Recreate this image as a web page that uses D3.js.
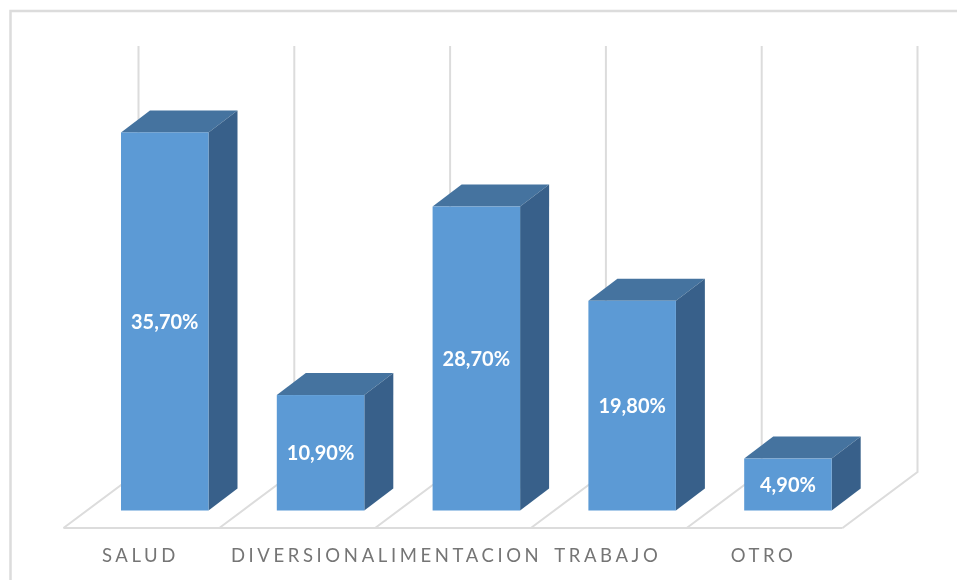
<!DOCTYPE html>
<html>
<head>
<meta charset="utf-8">
<script src="https://cdn.jsdelivr.net/npm/d3@7"></script>
<style>
html, body { margin: 0; padding: 0; background: #fff; }
svg { display: block; }
</style>
</head>
<body>
<svg id="mainChart"></svg>
<script>
var categories = ['SALUD', 'DIVERSION', 'ALIMENTACION', 'TRABAJO', 'OTRO'];
var values = [35.7, 10.9, 28.7, 19.8, 4.9];
var valueLabels = ['35,70%', '10,90%', '28,70%', '19,80%', '4,90%'];

var WIDTH = 957, HEIGHT = 580;
var FLOOR = { LEFT: 63.5, RIGHT: 842.5, FRONT: 528, DX: 75, DY: -56 };
var GRIDTOP = 46;
var BAR = { OFFSET: 57.5, WIDTH: 87.5, BOTTOM: 510.5, DX: 29, DY: -22 };
var COLORS = { front: '#5b9ad5', top: '#44739f', side: '#38618a', grid: '#dcdcdc', text: '#757575' };

var svg = d3.select('#mainChart')
    .attr('width', WIDTH)
    .attr('height', HEIGHT);

// the source is a soft screenshot
svg.append('filter')
    .attr('id', 'soft')
    .attr('x', 0).attr('y', 0).attr('width', 1).attr('height', 1)
    .attr('filterUnits', 'userSpaceOnUse')
    .attr('width', WIDTH).attr('height', HEIGHT)
    .append('feGaussianBlur')
    .attr('stdDeviation', 0.5);

var root = svg.append('g').attr('filter', 'url(#soft)');

var xScale = d3.scaleBand()
    .domain(categories)
    .range([FLOOR.LEFT, FLOOR.RIGHT]);
var yScale = d3.scaleLinear()
    .domain([0, 40])
    .range([BAR.BOTTOM, BAR.BOTTOM - 423.6]);

var poly = function (pts) {
    return pts.map(function (p) { return p.join(','); }).join(' ');
};

// chart frame, only top and left show in the crop
root.append('path')
    .attr('d', 'M10.5,' + HEIGHT + 'V11H' + WIDTH)
    .attr('fill', 'none')
    .attr('stroke', COLORS.grid)
    .attr('stroke-width', 2.5);

// floor and back wall
var floorG = root.append('g')
    .attr('fill', 'none')
    .attr('stroke', COLORS.grid)
    .attr('stroke-width', 2);
var edges = categories.map(function (c) { return xScale(c); }).concat([FLOOR.RIGHT]);

floorG.append('line')
    .attr('x1', FLOOR.LEFT).attr('x2', FLOOR.RIGHT)
    .attr('y1', FLOOR.FRONT).attr('y2', FLOOR.FRONT);
floorG.selectAll('.wall')
    .data(edges)
    .join('polyline')
    .attr('class', 'wall')
    .attr('points', function (x) {
        return poly([[x, FLOOR.FRONT], [x + FLOOR.DX, FLOOR.FRONT + FLOOR.DY], [x + FLOOR.DX, GRIDTOP]]);
    });

// bars
var bars = root.selectAll('.bar')
    .data(categories)
    .join('g')
    .attr('class', 'bar');

bars.append('polygon')
    .attr('fill', COLORS.top)
    .attr('points', function (c, i) {
        var x = xScale(c) + BAR.OFFSET, y = yScale(values[i]);
        return poly([[x, y], [x + BAR.DX, y + BAR.DY], [x + BAR.WIDTH + BAR.DX, y + BAR.DY], [x + BAR.WIDTH, y]]);
    });
bars.append('polygon')
    .attr('fill', COLORS.side)
    .attr('points', function (c, i) {
        var x = xScale(c) + BAR.OFFSET + BAR.WIDTH, y = yScale(values[i]);
        return poly([[x, y], [x + BAR.DX, y + BAR.DY], [x + BAR.DX, BAR.BOTTOM + BAR.DY], [x, BAR.BOTTOM]]);
    });
bars.append('rect')
    .attr('fill', COLORS.front)
    .attr('x', function (c) { return xScale(c) + BAR.OFFSET; })
    .attr('y', function (c, i) { return yScale(values[i]); })
    .attr('width', BAR.WIDTH)
    .attr('height', function (c, i) { return BAR.BOTTOM - yScale(values[i]); });

bars.append('text')
    .attr('x', function (c) { return xScale(c) + BAR.OFFSET + BAR.WIDTH / 2; })
    .attr('y', function (c, i) { return (yScale(values[i]) + BAR.BOTTOM) / 2 + 7.5; })
    .attr('text-anchor', 'middle')
    .attr('fill', '#fff')
    .style('font-family', 'Lato')
    .style('font-weight', '700')
    .style('font-size', '20px')
    .text(function (c, i) { return valueLabels[i]; });

// category labels
root.selectAll('.cat')
    .data(categories)
    .join('text')
    .attr('class', 'cat')
    .attr('x', function (c) { return xScale(c) + xScale.bandwidth() / 2 - 1; })
    .attr('y', 561.5)
    .attr('text-anchor', 'middle')
    .attr('fill', COLORS.text)
    .style('font-family', 'Lato')
    .style('font-size', '18.5px')
    .style('letter-spacing', '3.6px')
    .text(function (c) { return c; });
</script>
</body>
</html>
